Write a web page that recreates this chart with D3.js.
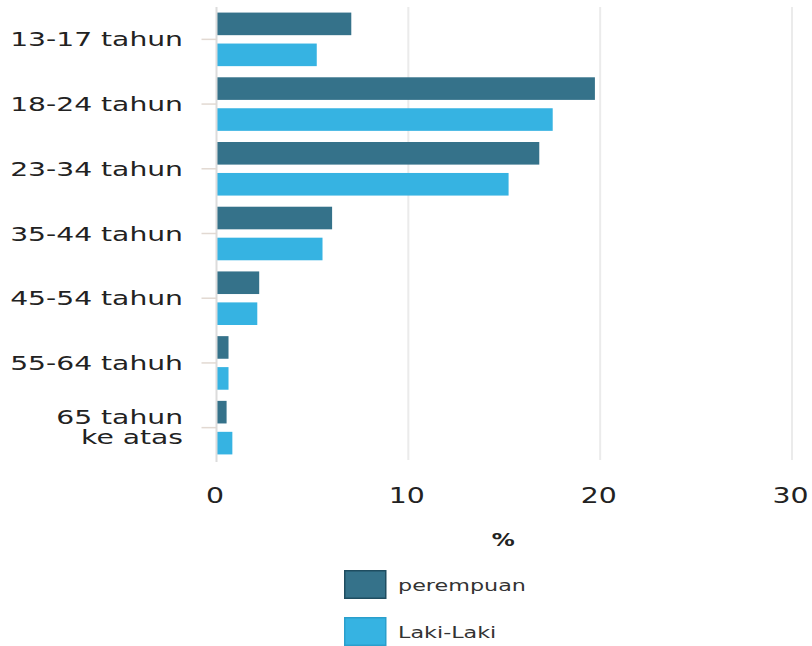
<!DOCTYPE html>
<html>
<head>
<meta charset="utf-8">
<script src="https://cdn.jsdelivr.net/npm/d3@7"></script>
<style>
  html, body { margin: 0; padding: 0; background: #fff; }
  svg { display: block; }
  text { font-family: "DejaVu Sans", Verdana, sans-serif; fill: #222; }
</style>
</head>
<body>
<svg id="chart" width="812" height="646"></svg>
<script>
const categories = ["13-17 tahun", "18-24 tahun", "23-34 tahun", "35-44 tahun", "45-54 tahun", "55-64 tahuh", "65 tahun\nke atas"];
const seriesNames = ["perempuan", "Laki-Laki"];
const perempuan = [7.0, 19.7, 16.8, 6.0, 2.2, 0.6, 0.5];
const lakiLaki = [5.2, 17.5, 15.2, 5.5, 2.1, 0.6, 0.8];
const xTicks = [0, 10, 20, 30];
const xLabel = "%";
const colors = ["#35728a", "#36b3e2"];
const strokeColors = ["#1f4d60", "#2a9fcc"];

const data = categories.map((c, i) => ({ cat: c, values: [perempuan[i], lakiLaki[i]] }));

const SX = 1.35; // horizontal stretch of text seen in reference
const SY = 1.41; // stretch for category labels
const svg = d3.select("#chart");
const pLeft = 216.5, pRight = 792, pTop = 7, pBottom = 460;

const x = d3.scaleLinear().domain([0, 30]).range([pLeft, pRight]);
const y0 = d3.scaleBand().domain(categories).range([pTop, pBottom]).padding(0);
const y1 = d3.scaleBand().domain([0, 1]).range([0, y0.bandwidth()]).paddingInner(0.27).paddingOuter(0.18);

// gridlines
svg.append("g").selectAll("line").data(xTicks.filter(d => d > 0)).join("line")
  .attr("x1", d => x(d)).attr("x2", d => x(d))
  .attr("y1", pTop).attr("y2", pBottom)
  .attr("stroke", "#ebebeb").attr("stroke-width", 2);

// bars
const groups = svg.append("g").selectAll("g").data(data).join("g")
  .attr("transform", d => `translate(0,${y0(d.cat)})`);
groups.selectAll("rect").data(d => d.values.map((v, k) => ({ v, k }))).join("rect")
  .attr("x", x(0) + 0.5)
  .attr("y", d => y1(d.k))
  .attr("width", d => x(d.v) - x(0))
  .attr("height", y1.bandwidth())
  .attr("fill", d => colors[d.k]);

// y axis
const yAxis = svg.append("g").attr("transform", `translate(${pLeft},0)`)
  .call(d3.axisLeft(y0).tickSize(15).tickSizeOuter(0));
yAxis.select(".domain").attr("stroke", "#dcdcdc").attr("stroke-width", 2)
  .attr("d", `M0,${pTop}V${pBottom + 2}`);
yAxis.selectAll(".tick line").attr("stroke", "#e2d9d2").attr("stroke-width", 1.5);
yAxis.selectAll(".tick text").each(function(d) {
  const t = d3.select(this);
  const lines = d.split("\n");
  t.text(null)
    .attr("x", null).attr("dy", null)
    .attr("text-anchor", "end")
    .attr("transform", `translate(${183 - pLeft},0) scale(${SY},1)`)
    .style("font-size", "20px").style("font-family", '"DejaVu Sans", Verdana, sans-serif').style("fill", "#222");
  if (lines.length === 1) {
    t.append("tspan").attr("x", 0).attr("dy", "0.35em").text(lines[0]);
  } else {
    t.append("tspan").attr("x", 0).attr("dy", "-0.2em").text(lines[0]);
    t.append("tspan").attr("x", 0).attr("dy", "1.0em").text(lines[1]);
  }
});

// x axis
const xAxis = svg.append("g").attr("transform", `translate(0,${pBottom})`)
  .call(d3.axisBottom(x).tickValues(xTicks).tickSize(0).tickFormat(d3.format("d")));
xAxis.select(".domain").remove();
xAxis.selectAll(".tick text")
  .attr("y", 0).attr("dy", null)
  .attr("transform", `translate(-2,43) scale(${SX},1)`)
  .style("font-size", "21px").style("font-family", '"DejaVu Sans", Verdana, sans-serif').style("fill", "#222");

// x label
svg.append("text")
  .attr("text-anchor", "middle")
  .attr("transform", `translate(${(pLeft + pRight) / 2 - 1},546) scale(${SX},1)`)
  .style("font-size", "17px").style("font-weight", "bold")
  .text(xLabel);

// legend
const legend = svg.append("g").selectAll("g").data(seriesNames).join("g")
  .attr("transform", (d, i) => `translate(344,${570 + i * 47})`);
legend.append("rect")
  .attr("x", 0.75).attr("y", 0.75).attr("width", 41).attr("height", 27.5)
  .attr("fill", (d, i) => colors[i])
  .attr("stroke", (d, i) => strokeColors[i]).attr("stroke-width", 1.5);
legend.append("text")
  .attr("transform", `translate(54,21) scale(${SX},1)`)
  .style("font-size", "16.5px").style("fill", "#333")
  .text(d => d);
</script>
</body>
</html>
